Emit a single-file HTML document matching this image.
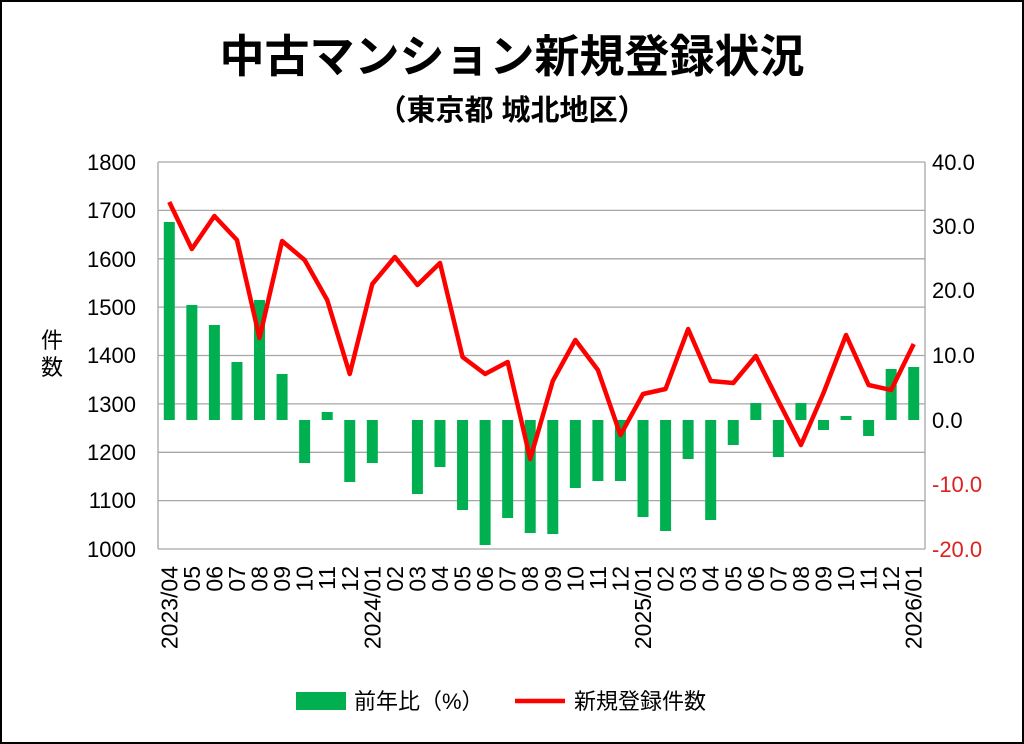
<!DOCTYPE html>
<html><head><meta charset="utf-8"><style>
body{margin:0;background:#fff;}
svg{display:block;}
text{font-family:"Liberation Sans","Noto Sans CJK JP",sans-serif;}
</style></head><body>
<svg width="1024" height="744" viewBox="0 0 1024 744" xmlns="http://www.w3.org/2000/svg">
<rect x="1" y="1" width="1022" height="742" fill="#fff" stroke="#000" stroke-width="2"/>
<text x="512" y="72" text-anchor="middle" font-size="45" font-weight="bold" font-family="'Noto Sans CJK JP',sans-serif">中古マンション新規登録状況</text>
<text x="512" y="120" text-anchor="middle" font-size="29" font-weight="bold" font-family="'Noto Sans CJK JP',sans-serif">（東京都 城北地区）</text>
<g stroke="#a6a6a6" stroke-width="1.3">
<line x1="158" y1="162" x2="925" y2="162"/><line x1="158" y1="210.4" x2="925" y2="210.4"/>
<line x1="158" y1="258.8" x2="925" y2="258.8"/><line x1="158" y1="307.1" x2="925" y2="307.1"/>
<line x1="158" y1="355.5" x2="925" y2="355.5"/><line x1="158" y1="403.9" x2="925" y2="403.9"/>
<line x1="158" y1="452.3" x2="925" y2="452.3"/><line x1="158" y1="500.6" x2="925" y2="500.6"/>
<line x1="158" y1="549" x2="925" y2="549"/>
<line x1="158" y1="162" x2="158" y2="549"/><line x1="925" y1="162" x2="925" y2="549"/>
</g>
<g font-size="22" text-anchor="end">
<text x="136" y="170">1800</text><text x="136" y="218">1700</text><text x="136" y="267">1600</text>
<text x="136" y="315">1500</text><text x="136" y="363">1400</text><text x="136" y="412">1300</text>
<text x="136" y="460">1200</text><text x="136" y="508">1100</text><text x="136" y="557">1000</text>
</g>
<g font-size="22" text-anchor="start">
<text x="932" y="170">40.0</text><text x="932" y="234">30.0</text><text x="932" y="298">20.0</text>
<text x="932" y="363">10.0</text><text x="932" y="428">0.0</text>
<text x="932" y="492" fill="#e02020">-10.0</text><text x="932" y="557" fill="#e02020">-20.0</text>
</g>
<text x="52" y="348" text-anchor="middle" font-size="22" font-family="'Noto Sans CJK JP',sans-serif">件</text>
<text x="52" y="375" text-anchor="middle" font-size="22" font-family="'Noto Sans CJK JP',sans-serif">数</text>
<g fill="#00b050" id="bars"></g>
<polyline id="line" fill="none" stroke="#ff0000" stroke-width="4.5" stroke-linejoin="round"/>
<g id="xl" font-size="23"></g>
<rect x="296" y="692" width="50" height="18" fill="#00b050"/>
<text x="354" y="709" font-size="22" font-family="'Noto Sans CJK JP',sans-serif">前年比（%）</text>
<line x1="515" y1="701" x2="565" y2="701" stroke="#ff0000" stroke-width="4.5"/>
<text x="574" y="709" font-size="22" font-family="'Noto Sans CJK JP',sans-serif">新規登録件数</text>
</svg>
<script>
var bars=[222,305,325,362,300,374,463,412,482,463,420,494,467,510,545,518,533,534,488,481,481,517,531,459,520,445,403,457,403,430,416,436,369,367];
var line=[202,249,216,240,338,241,260,300,374,284,257,285,263,357,374,362,459,381,340,370,435,394,389,329,381,383,356,401,445,393,335,385,390,344];
var labs=["2023/04","05","06","07","08","09","10","11","12","2024/01","02","03","04","05","06","07","08","09","10","11","12","2025/01","02","03","04","05","06","07","08","09","10","11","12","2026/01"];
var ns="http://www.w3.org/2000/svg",w=(925-158)/34;
var g=document.getElementById("bars"),xl=document.getElementById("xl"),pts=[];
for(var i=0;i<34;i++){var cx=158+w*(i+0.5);
var y=bars[i],t=Math.min(y,420),h=Math.abs(y-420);
if(h>0.5){var r=document.createElementNS(ns,"rect");r.setAttribute("x",cx-5.5);r.setAttribute("y",t);r.setAttribute("width",11);r.setAttribute("height",h);g.appendChild(r);}
pts.push(cx+","+line[i]);
var tx=document.createElementNS(ns,"text");tx.setAttribute("transform","translate("+(cx+8)+",566) rotate(-90)");tx.setAttribute("text-anchor","end");tx.textContent=labs[i];xl.appendChild(tx);}
document.getElementById("line").setAttribute("points",pts.join(" "));
</script>
</body></html>
